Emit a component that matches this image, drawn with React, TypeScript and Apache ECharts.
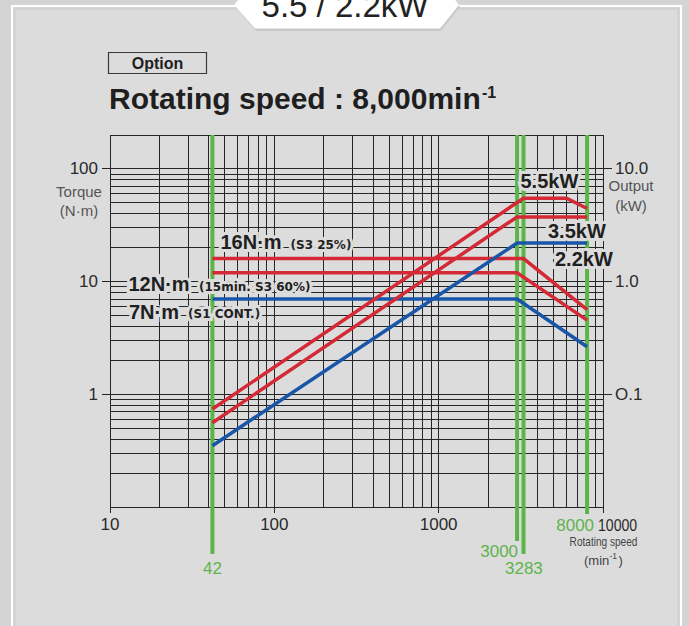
import React, { useEffect, useRef } from 'react';
import * as echarts from 'echarts';

// ---------------- data ----------------
const speedTicks = [10, 100, 1000, 10000];
const torqueTicks = [1, 10, 100];
const outputTicks = [0.1, 1, 10];
const outputTickLabels = ['O.1', '1.0', '10.0'];

const speedGrid = [
  10, 20, 30, 40, 50, 60, 70, 80, 90,
  100, 200, 300, 400, 500, 600, 700, 800, 900,
  1000, 2000, 3000, 4000, 5000, 6000, 7000, 8000, 9000,
  10000,
];
const torqueGrid = [
  0.1, 0.2, 0.3, 0.4, 0.5, 0.6, 0.7, 0.8, 0.9,
  1, 2, 3, 4, 5, 6, 7, 8, 9,
  10, 20, 30, 40, 50, 60, 70, 80, 90,
  100, 200,
];

const markedSpeeds = [42, 3000, 3283, 8000];
const markedSpeedLabels = ['42', '3000', '3283', '8000'];

// torque (N·m) vs speed (min-1)
const torqueS3_25 = [[42, 16], [3283, 16], [8000, 5.65]];
const torqueS3_60 = [[42, 12], [3000, 12], [8000, 4.55]];
const torqueS1 = [[42, 7], [3000, 7], [8000, 2.64]];
// output (kW) vs speed (min-1)
const outputS3_25 = [[42, 0.074], [3283, 5.5], [6000, 5.5], [8000, 4.45]];
const outputS3_60 = [[42, 0.056], [3000, 3.75], [8000, 3.75]];
const outputS1 = [[42, 0.035], [3000, 2.2], [8000, 2.2]];

// ---------------- styles ----------------
const SANS = '"Liberation Sans", Arial, Helvetica, sans-serif';
const DEJAVU = '"DejaVu Sans", sans-serif';
const BG = '#dcdcdd';
const GRID_COLOR = '#262626';
const RED = '#d42a36';
const BLUE = '#1a56a8';
const GREEN = '#5cb548';
const X_MIN = 10, X_MAX = 10000, Y_MIN = 0.1, Y_MAX = 200;

const greenStyle: Record<number, { ext: number; dx: number; dy: number; align: string }> = {
  42: { ext: 47, dx: 0, dy: 61, align: 'center' },
  3000: { ext: 34, dx: 1, dy: 44.5, align: 'right' },
  3283: { ext: 47, dx: -18.5, dy: 61, align: 'left' },
  8000: { ext: 7, dx: 7, dy: 18, align: 'right' },
};

const norm = (v: number) => +Number(v).toPrecision(6);
const snap = (v: number) => Math.round(v - 0.5) + 0.5;

function lineSeries(data: number[][], color: string, yAxisIndex: number) {
  return {
    type: 'line',
    data,
    yAxisIndex,
    symbol: 'none',
    silent: true,
    z: 5,
    lineStyle: { color, width: 3.5, cap: 'butt', join: 'miter' },
  };
}

function label(text: string, x: number, y: number, size: number, family: string, color = '#1f1f1f') {
  return {
    type: 'text',
    x,
    y,
    z: 3,
    silent: true,
    style: {
      text,
      fill: color,
      fontSize: size,
      fontFamily: family,
      fontWeight: 'bold',
      align: 'left',
      verticalAlign: 'middle',
      stroke: BG,
      lineWidth: 6,
    },
  };
}

function plain(text: string, x: number, y: number, size: number, color: string, align = 'center', extra: any = {}) {
  return {
    type: 'text',
    x,
    y,
    z: 3,
    silent: true,
    ...extra,
    style: {
      text,
      fill: color,
      fontSize: size,
      fontFamily: SANS,
      align,
      verticalAlign: 'middle',
      ...(extra.style || {}),
    },
  };
}

const option: any = {
  animation: false,
  backgroundColor: '#d4d4d5',
  grid: { left: 110, width: 493, top: 135, height: 372, containLabel: false, outerBoundsMode: 'none' },
  xAxis: {
    type: 'log',
    logBase: 10,
    min: X_MIN,
    max: X_MAX,
    axisLine: { show: false },
    axisTick: { show: false },
    splitLine: { show: false },
    axisLabel: {
      margin: 9,
      fontSize: 17,
      fontFamily: SANS,
      color: '#2a2a2a',
      formatter: (v: number) => {
        const r = norm(v);
        return speedTicks.slice(0, 3).includes(r) ? String(r) : '';
      },
    },
  },
  yAxis: [
    {
      type: 'log',
      logBase: 10,
      min: Y_MIN,
      max: Y_MAX,
      position: 'left',
      axisLine: { show: false },
      axisTick: { show: false },
      splitLine: { show: false },
      axisLabel: {
        margin: 12,
        fontSize: 17,
        fontFamily: SANS,
        color: '#2a2a2a',
        formatter: (v: number) => {
          const r = norm(v);
          return torqueTicks.includes(r) ? String(r) : '';
        },
      },
    },
    {
      type: 'log',
      logBase: 10,
      min: Y_MIN / 10,
      max: Y_MAX / 10,
      position: 'right',
      axisLine: { show: false },
      axisTick: { show: false },
      splitLine: { show: false },
      axisLabel: {
        margin: 12,
        fontSize: 17,
        fontFamily: SANS,
        color: '#2a2a2a',
        formatter: (v: number) => {
          const i = outputTicks.indexOf(norm(v));
          return i >= 0 ? outputTickLabels[i] : '';
        },
      },
    },
  ],
  series: [
    {
      type: 'custom',
      silent: true,
      z: 1,
      data: speedGrid.map((v) => [v, 1]),
      renderItem: (params: any, api: any) => {
        const v = api.value(0);
        const t = api.coord([v, Y_MAX]);
        const b = api.coord([v, Y_MIN]);
        const ext = speedTicks.includes(norm(v)) ? 6 : 0;
        const x = snap(t[0]);
        return {
          type: 'line',
          shape: { x1: x, y1: t[1], x2: x, y2: b[1] + ext },
          style: { stroke: GRID_COLOR, lineWidth: 1 },
        };
      },
    },
    {
      type: 'custom',
      silent: true,
      z: 1,
      data: torqueGrid.map((v) => [X_MIN, v]),
      renderItem: (params: any, api: any) => {
        const v = api.value(1);
        const l = api.coord([X_MIN, v]);
        const r = api.coord([X_MAX, v]);
        const major = torqueTicks.includes(norm(v));
        const y = snap(l[1]);
        return {
          type: 'line',
          shape: { x1: l[0] - (major ? 8 : 0), y1: y, x2: r[0] + (major ? 9 : 0), y2: y },
          style: { stroke: GRID_COLOR, lineWidth: 1 },
        };
      },
    },
    {
      type: 'custom',
      silent: true,
      z: 2,
      data: markedSpeeds.map((v) => [v, 1]),
      renderItem: (params: any, api: any) => {
        const v = api.value(0);
        const i = params.dataIndex;
        const s = greenStyle[markedSpeeds[i]];
        const t = api.coord([v, Y_MAX]);
        const b = api.coord([v, Y_MIN]);
        return {
          type: 'group',
          children: [
            {
              type: 'line',
              shape: { x1: t[0], y1: t[1], x2: t[0], y2: b[1] + s.ext },
              style: { stroke: GREEN, lineWidth: 4 },
            },
            {
              type: 'text',
              x: t[0] + s.dx,
              y: b[1] + s.dy,
              style: {
                text: markedSpeedLabels[i],
                fill: '#5fb34c',
                fontSize: 17,
                fontFamily: SANS,
                align: s.align,
                verticalAlign: 'middle',
              },
            },
          ],
        };
      },
    },
    lineSeries(torqueS3_25, RED, 0),
    lineSeries(torqueS3_60, RED, 0),
    lineSeries(torqueS1, BLUE, 0),
    lineSeries(outputS3_25, RED, 1),
    lineSeries(outputS3_60, RED, 1),
    lineSeries(outputS1, BLUE, 1),
  ],
  graphic: [
    // frame
    {
      type: 'rect',
      z: -10,
      silent: true,
      shape: { x: 12, y: 6, width: 669, height: 660 },
      style: { fill: BG, stroke: '#ffffff', lineWidth: 2 },
    },
    {
      type: 'rect',
      z: -9,
      silent: true,
      shape: { x: 14.5, y: 8.5, width: 664, height: 660 },
      style: { fill: 'none', stroke: '#d0d0d1', lineWidth: 2 },
    },
    // tab
    {
      type: 'polygon',
      z: -8,
      silent: true,
      shape: { points: [[235, 7], [256, 31], [441, 31], [460, 7], [441, -20], [256, -20]] },
      style: { fill: '#c9c9ca' },
    },
    {
      type: 'polygon',
      z: -7,
      silent: true,
      shape: { points: [[234, 5], [255, 28.5], [440, 28.5], [459, 5], [440, -20], [255, -20]] },
      style: { fill: '#ffffff' },
    },
    plain('5.5 / 2.2kW', 345, 5.5, 33, '#222222'),
    // option box + title
    {
      type: 'rect',
      z: 3,
      silent: true,
      shape: { x: 108.5, y: 52.5, width: 98, height: 21 },
      style: { fill: 'none', stroke: '#3a3a3a', lineWidth: 1.2 },
    },
    plain('Option', 157.5, 63, 16, '#1f1f1f', 'center', { style: { fontWeight: 'bold' } }),
    plain('Rotating speed : 8,000min', 109, 98, 30, '#1f1f1f', 'left', { style: { fontWeight: 'bold' } }),
    plain('-1', 482, 92.5, 16, '#1f1f1f', 'left', { style: { fontWeight: 'bold' } }),
    // axis names
    plain('Torque', 79, 191, 15, '#555555'),
    plain('(N·m)', 79, 210.5, 15, '#555555'),
    plain('Output', 631, 185.5, 15, '#555555'),
    plain('(kW)', 631, 205, 15, '#555555'),
    plain('10000', 598, 525, 17, '#2a2a2a', 'left', { scaleX: 0.83 }),
    plain('Rotating speed', 603.5, 542, 12, '#444444', 'center', { scaleX: 0.84 }),
    plain('(min', 584, 560, 13, '#444444', 'left'),
    plain('-1', 609.5, 556, 8.5, '#444444', 'left'),
    plain(')', 618.5, 560, 13, '#444444', 'left'),
    // annotations
    label('16N·m', 220.5, 242, 20, SANS),
    label('(S3 25%)', 290.5, 244.5, 12, DEJAVU),
    label('12N·m', 128.5, 283.5, 20, SANS),
    label('(15min. S3 60%)', 199, 286.5, 12, DEJAVU),
    label('7N·m', 129, 312, 20, SANS),
    label('(S1 CONT.)', 188, 314, 12, DEJAVU),
    label('5.5kW', 520.5, 181, 20, SANS),
    label('3.5kW', 548, 230.5, 20, SANS),
    label('2.2kW', 555, 259, 20, SANS),
  ],
};

export default function App() {
  const ref = useRef<HTMLDivElement>(null);
  useEffect(() => {
    if (!ref.current) return;
    const chart = echarts.init(ref.current, undefined, { renderer: 'svg' });
    chart.setOption(option);
    return () => chart.dispose();
  }, []);
  return (
    <div
      ref={ref}
      style={{ position: 'fixed', left: 0, top: 0, width: 689, height: 626 }}
    />
  );
}
